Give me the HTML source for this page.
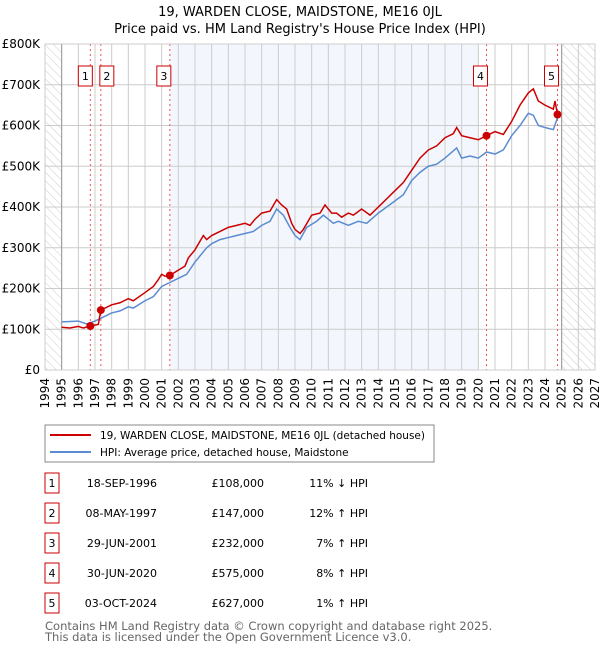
<!DOCTYPE html>
<html><head><meta charset="utf-8"><style>
body{margin:0;background:#fff;font-family:"DejaVu Sans","Liberation Sans",sans-serif;}
svg text{font-family:"DejaVu Sans","Liberation Sans",sans-serif;}
</style></head><body>
<svg id="chart" width="600" height="650" xmlns="http://www.w3.org/2000/svg">
<defs><pattern id="hatch" width="6" height="6" patternUnits="userSpaceOnUse" patternTransform="rotate(-45)"><line x1="0" y1="0" x2="0" y2="6" stroke="#ccc" stroke-width="1"/></pattern></defs>
<text x="300" y="16" text-anchor="middle" font-size="13">19, WARDEN CLOSE, MAIDSTONE, ME16 0JL</text>
<text x="300" y="33" text-anchor="middle" font-size="13">Price paid vs. HM Land Registry's House Price Index (HPI)</text>
<g id="plot"></g>
<g>
<rect x="45" y="425" width="389" height="37" fill="#fff" stroke="#888"/>
<line x1="50" y1="435" x2="91" y2="435" stroke="#cc0000" stroke-width="2"/>
<text x="100" y="439" font-size="10.5">19, WARDEN CLOSE, MAIDSTONE, ME16 0JL (detached house)</text>
<line x1="50" y1="452" x2="91" y2="452" stroke="#5b8bd0" stroke-width="2"/>
<text x="100" y="456" font-size="10.5">HPI: Average price, detached house, Maidstone</text>
</g>
<g id="table"></g>
<text x="45" y="630" font-size="11.5" fill="#666">Contains HM Land Registry data © Crown copyright and database right 2025.</text>
<text x="45" y="641" font-size="11.5" fill="#666">This data is licensed under the Open Government Licence v3.0.</text>
</svg>
<script>
const yTicks=[0,100,200,300,400,500,600,700,800];
const yTickLabels=["£0","£100K","£200K","£300K","£400K","£500K","£600K","£700K","£800K"];
const years=[1994,1995,1996,1997,1998,1999,2000,2001,2002,2003,2004,2005,2006,2007,2008,2009,2010,2011,2012,2013,2014,2015,2016,2017,2018,2019,2020,2021,2022,2023,2024,2025,2026,2027];
const redT=[1995.0,1995.5,1996.0,1996.3,1996.72,1997.2,1997.35,1998.0,1998.5,1999.0,1999.3,2000.0,2000.5,2000.8,2001.0,2001.2,2001.49,2002.0,2002.4,2002.6,2003.0,2003.5,2003.7,2004.0,2004.5,2005.0,2005.5,2006.0,2006.3,2006.6,2007.0,2007.5,2007.9,2008.2,2008.5,2008.8,2009.0,2009.3,2009.5,2010.0,2010.5,2010.8,2011.2,2011.5,2011.8,2012.2,2012.5,2013.0,2013.5,2014.0,2014.5,2015.0,2015.5,2016.0,2016.5,2017.0,2017.5,2018.0,2018.5,2018.7,2019.0,2019.5,2020.0,2020.49,2021.0,2021.5,2022.0,2022.5,2023.0,2023.3,2023.6,2024.0,2024.5,2024.6,2024.75];
const redV=[105,103,107,103,108,112,147,160,165,175,170,190,205,222,235,230,232,245,255,275,295,330,320,330,340,350,355,360,355,370,385,390,418,405,395,360,345,335,345,380,385,405,385,385,375,385,380,395,380,400,420,440,460,490,520,540,550,570,580,595,575,570,565,575,585,578,610,650,680,690,660,650,640,660,627];
const hpiT=[1995.0,1996.0,1996.5,1997.0,1997.5,1998.0,1998.5,1999.0,1999.3,2000.0,2000.5,2001.0,2001.5,2002.0,2002.5,2003.0,2003.5,2003.7,2004.0,2004.5,2005.0,2005.5,2006.0,2006.5,2007.0,2007.5,2007.9,2008.3,2008.7,2009.0,2009.3,2009.7,2010.3,2010.7,2011.3,2011.6,2012.2,2012.8,2013.3,2014.0,2014.5,2015.0,2015.5,2016.0,2016.5,2017.0,2017.5,2018.0,2018.7,2019.0,2019.5,2020.0,2020.5,2021.0,2021.5,2022.0,2022.5,2023.0,2023.3,2023.6,2024.0,2024.5,2024.8];
const hpiV=[118,120,113,120,130,140,145,155,152,170,180,205,215,225,235,265,290,300,310,320,325,330,335,340,355,365,395,380,350,330,320,350,365,380,360,365,355,365,360,385,400,415,430,465,485,500,505,520,545,520,525,520,535,530,540,575,600,630,625,600,595,590,625];
const saleLabels=["1","2","3","4","5"];
const saleT=[1996.72,1997.35,2001.49,2020.49,2024.75];
const saleV=[108,147,232,575,627];
const saleDates=["18-SEP-1996","08-MAY-1997","29-JUN-2001","30-JUN-2020","03-OCT-2024"];
const salePrices=["£108,000","£147,000","£232,000","£575,000","£627,000"];
const saleHpi=["11% ↓ HPI","12% ↑ HPI","7% ↑ HPI","8% ↑ HPI","1% ↑ HPI"];

const L=45,R=595,T=44,B=370;
const x=t=>L+(t-1994)/(2027-1994)*(R-L);
const y=v=>B-v/800*(B-T);
const NS="http://www.w3.org/2000/svg";
const plot=document.getElementById('plot');
function mk(tag,attrs,parent){const e=document.createElementNS(NS,tag);for(const k in attrs)e.setAttribute(k,attrs[k]);(parent||plot).appendChild(e);return e;}

let e;
e=mk('rect',{x:L,y:T,width:R-L,height:B-T,fill:'#fff'});


e=mk('rect',{x:x(2001.49),y:T,width:x(2020.0)-x(2001.49),height:B-T,fill:'#eef3fc',opacity:0.7});


e=mk('rect',{x:L,y:T,width:x(1995)-L,height:B-T,fill:'url(#hatch)'});


e=mk('rect',{x:x(2025),y:T,width:R-x(2025),height:B-T,fill:'url(#hatch)'});


years.forEach(yr=>{
  e=mk('line',{x1:x(yr),x2:x(yr),y1:T,y2:B,stroke:'#ccc','stroke-width':1});
  
  
  e=mk('text',{x:0,y:0,'font-size':12,'text-anchor':'end',transform:`translate(${x(yr)+4},${B+8}) rotate(-90)`});
  e.textContent=yr;
  
  
});
yTicks.forEach((v,i)=>{
  e=mk('line',{x1:L,x2:R,y1:y(v),y2:y(v),stroke:'#ccc','stroke-width':1});
  
  
  e=mk('text',{x:L-5,y:y(v)+4,'font-size':12,'text-anchor':'end'});
  e.textContent=yTickLabels[i];
  
  
});
[1995,2025].forEach(yr=>{
  e=mk('line',{x1:x(yr),x2:x(yr),y1:T,y2:B,stroke:'#999','stroke-width':1});
  
  
});
saleT.forEach((t,i)=>{
  e=mk('line',{x1:x(t),x2:x(t),y1:T,y2:B,stroke:'#ee5555','stroke-width':1,'stroke-dasharray':'2,3'});
  
  
});
e=mk('polyline',{points:hpiT.map((t,i)=>x(t)+','+y(hpiV[i])).join(' '),fill:'none',stroke:'#5b8bd0','stroke-width':1.5});


e=mk('polyline',{points:redT.map((t,i)=>x(t)+','+y(redV[i])).join(' '),fill:'none',stroke:'#cc0000','stroke-width':1.5});


saleT.forEach((t,i)=>{
  e=mk('circle',{cx:x(t),cy:y(saleV[i]),r:4,fill:'#cc0000'});
  
  
  const off=(i===0?12:i===1?1:13);
  e=mk('rect',{x:x(t)-off,y:66,width:14,height:20,fill:'#fff',stroke:'#cc0000'});
  
  
  e=mk('text',{x:x(t)-off+7,y:80,'font-size':11,'text-anchor':'middle'});
  e.textContent=saleLabels[i];
  
  
});
e=mk('rect',{x:L,y:T,width:R-L,height:B-T,fill:'none',stroke:'#ccc'});



const tbl=document.getElementById('table');
saleLabels.forEach((s,i)=>{
  const cy=483+i*30;
  e=mk('rect',{x:45,y:cy-10,width:14,height:20,fill:'#fff',stroke:'#cc0000'},tbl);
  
  
  e=mk('text',{x:52,y:cy+4,'font-size':11,'text-anchor':'middle'},tbl);e.textContent=s;
  
  
  e=mk('text',{x:157,y:cy+4,'font-size':11,'text-anchor':'end'},tbl);e.textContent=saleDates[i];
  
  
  e=mk('text',{x:264,y:cy+4,'font-size':11,'text-anchor':'end'},tbl);e.textContent=salePrices[i];
  
  
  e=mk('text',{x:368,y:cy+4,'font-size':11,'text-anchor':'end'},tbl);e.textContent=saleHpi[i];
  
  
});
</script>
</body></html>
